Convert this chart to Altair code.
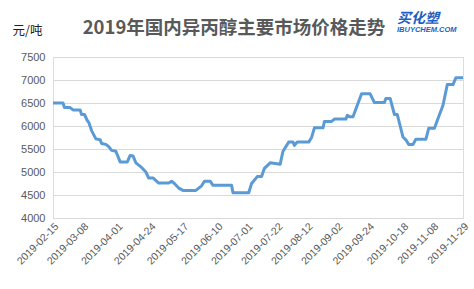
import altair as alt
import pandas as pd

dates = [
    "2019-02-15", "2019-02-22", "2019-02-23", "2019-02-27", "2019-03-01", "2019-03-06",
    "2019-03-07", "2019-03-09", "2019-03-11", "2019-03-12", "2019-03-14", "2019-03-17",
    "2019-03-20", "2019-03-21", "2019-03-24", "2019-03-26", "2019-03-28", "2019-03-31",
    "2019-04-03", "2019-04-08", "2019-04-10", "2019-04-12", "2019-04-14", "2019-04-18",
    "2019-04-21", "2019-04-23", "2019-04-26", "2019-04-30", "2019-05-07", "2019-05-09",
    "2019-05-11", "2019-05-14", "2019-05-17", "2019-05-26", "2019-05-30", "2019-06-01",
    "2019-06-05", "2019-06-07", "2019-06-20", "2019-06-21", "2019-07-02", "2019-07-04",
    "2019-07-08", "2019-07-11", "2019-07-13", "2019-07-17", "2019-07-24", "2019-07-26",
    "2019-07-30", "2019-08-02", "2019-08-03", "2019-08-05", "2019-08-13", "2019-08-15",
    "2019-08-17", "2019-08-23", "2019-08-24", "2019-08-29", "2019-08-31", "2019-09-08",
    "2019-09-09", "2019-09-11", "2019-09-13", "2019-09-16", "2019-09-19", "2019-09-25",
    "2019-09-28", "2019-10-05", "2019-10-06", "2019-10-09", "2019-10-12", "2019-10-14",
    "2019-10-18", "2019-10-20", "2019-10-22", "2019-10-25", "2019-10-27", "2019-11-03",
    "2019-11-05", "2019-11-09", "2019-11-11", "2019-11-15", "2019-11-18", "2019-11-22",
    "2019-11-24", "2019-11-29",
]
prices = [
    6500, 6500, 6400, 6400, 6350, 6350,
    6250, 6250, 6120, 6080, 5900, 5720,
    5700, 5620, 5600, 5550, 5470, 5450,
    5220, 5220, 5360, 5350, 5200, 5100,
    5000, 4870, 4870, 4760, 4760, 4800,
    4750, 4650, 4600, 4600, 4700, 4800,
    4800, 4710, 4710, 4550, 4550, 4750,
    4900, 4900, 5080, 5200, 5170, 5450,
    5650, 5650, 5580, 5650, 5650, 5750,
    5960, 5960, 6100, 6100, 6150, 6150,
    6230, 6200, 6200, 6450, 6700, 6700,
    6510, 6510, 6600, 6600, 6250, 6250,
    5760, 5700, 5600, 5600, 5710, 5710,
    5950, 5950, 6120, 6450, 6900, 6900,
    7050, 7050,
]
tick_dates = [
    "2019-02-15", "2019-03-08", "2019-04-01", "2019-04-24", "2019-05-17", "2019-06-10",
    "2019-07-01", "2019-07-22", "2019-08-12", "2019-09-02", "2019-09-24", "2019-10-18",
    "2019-11-08", "2019-11-29",
]
y_ticks = [4000, 4500, 5000, 5500, 6000, 6500, 7000, 7500]

title_text = "2019年国内异丙醇主要市场价格走势"
unit_text = "元/吨"
logo_cn = "买化塑"
logo_en = "IBUYCHEM.COM"


def dt(s):
    y, m, d = (int(p) for p in s.split("-"))
    return alt.DateTime(year=y, month=m, date=d)


df = pd.DataFrame({"date": pd.to_datetime(dates), "price": prices})

CJK = "Noto Sans CJK SC"
GRAY = "#595959"
LOGO = "#1f5fbf"

line = alt.Chart(df).mark_line(
    color="#5b9bd5", strokeWidth=3, strokeJoin="round", strokeCap="butt"
).encode(
    x=alt.X(
        "date:T",
        scale=alt.Scale(domain=[dt(tick_dates[0]), dt(tick_dates[-1])]),
        axis=alt.Axis(
            values=[dt(s) for s in tick_dates],
            format="%Y-%m-%d",
            labelAngle=-45,
            labelAlign="right",
            labelBaseline="top",
            labelPadding=3,
            labelFont="Liberation Sans",
            labelFontSize=10.5,
            labelColor=GRAY,
            labelOverlap=False,
            labelFlush=False,
            ticks=False,
            domain=False,
            grid=False,
            title=None,
        ),
    ),
    y=alt.Y(
        "price:Q",
        scale=alt.Scale(domain=[4000, 7500], nice=False, zero=False),
        axis=alt.Axis(
            values=y_ticks,
            format="d",
            labelFont="Liberation Sans",
            labelFontSize=11,
            labelColor=GRAY,
            labelPadding=8,
            ticks=False,
            domain=False,
            grid=True,
            gridColor="#d9d9d9",
            gridWidth=1,
            title=unit_text,
            titleAngle=0,
            titleAlign="left",
            titleBaseline="middle",
            titleX=-41,
            titleY=-27,
            titleFont=CJK,
            titleFontSize=12.5,
            titleFontWeight="normal",
            titleColor="#222222",
        ),
    ),
)

title = alt.Chart(pd.DataFrame({"t": [title_text]})).mark_text(
    font=CJK, fontSize=18.5, fontWeight="bold", color=GRAY,
    align="center", baseline="middle",
).encode(text="t:N", x=alt.value(181), y=alt.value(-29))

logo1 = alt.Chart(pd.DataFrame({"t": [logo_cn]})).mark_text(
    font=CJK, fontSize=14, fontWeight="bold", fontStyle="italic",
    color=LOGO, align="left", baseline="middle",
).encode(text="t:N", x=alt.value(344), y=alt.value(-38.5))

logo2 = alt.Chart(pd.DataFrame({"t": [logo_en]})).mark_text(
    font="Liberation Sans", fontSize=7.5, fontWeight="bold", fontStyle="italic",
    color=LOGO, align="left", baseline="middle",
).encode(text="t:N", x=alt.value(344), y=alt.value(-27))

chart = alt.layer(line, title, logo1, logo2).properties(
    width=410,
    height=161,
    autosize=alt.AutoSizeParams(type="none"),
    padding={"left": 53, "top": 57, "right": 11, "bottom": 71},
).configure_view(stroke=None).configure(background="white")

chart.save("out.html", embed_options={"renderer": "svg", "actions": False})
